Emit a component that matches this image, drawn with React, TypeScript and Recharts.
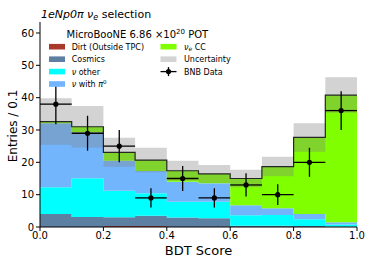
import React from "react";
import {
  ComposedChart,
  Area,
  Line,
  Scatter,
  ErrorBar,
  XAxis,
  YAxis,
} from "recharts";

// bin edges (BDT score) and per-bin stacked predictions
const EDGES = [0, 0.1, 0.2, 0.3, 0.4, 0.5, 0.6, 0.7, 0.8, 0.9, 1.0];
const CENTERS = [0.05, 0.15, 0.25, 0.35, 0.45, 0.55, 0.65, 0.75, 0.85, 0.95];

const DIRT = [0, 0, 0.3, 0.3, 0, 0, 0, 0, 0, 0];
const COSMICS = [4.0, 3.1, 2.7, 3.2, 2.9, 2.7, 0.4, 0.4, 0.3, 0.1];
const NU_OTHER = [8.3, 12.0, 8.2, 6.9, 4.9, 5.1, 3.2, 3.3, 2.1, 0.7];
const NU_PI0 = [19.8, 14.2, 9.3, 6.9, 6.2, 5.7, 3.1, 2.1, 1.6, 0.65];
const NUE_CC = [0.5, 1.7, 2.6, 3.4, 3.4, 2.9, 8.3, 12.9, 23.7, 39.35];
const UNCERT = [7.2, 6.4, 4.5, 3.8, 3.1, 2.8, 2.7, 3.0, 4.4, 5.5];

const DATA = [38, 29, 25, 9, 15, 9, 13, 10, 20, 36];
const DATA_ERR = [6.2, 5.4, 5.0, 3.0, 3.9, 3.0, 3.6, 3.2, 4.5, 6.0];

const X_TICKS = [0, 0.2, 0.4, 0.6, 0.8, 1.0];
const Y_TICKS = [0, 10, 20, 30, 40, 50, 60];

const COLORS = {
  dirt: "#a8392b",
  cosmics: "#5d7fa1",
  nuOther: "#00ffff",
  nuPi0: "#72b5fd",
  nueCC: "#80ff00",
};

// step rows: last edge repeats last bin so stepAfter closes at 1.0
const stepRows = EDGES.map((x, i) => {
  const k = Math.min(i, 9);
  const total = DIRT[k] + COSMICS[k] + NU_OTHER[k] + NU_PI0[k] + NUE_CC[k];
  return {
    x,
    dirt: DIRT[k],
    cosmics: COSMICS[k],
    nuOther: NU_OTHER[k],
    nuPi0: NU_PI0[k],
    nueCC: NUE_CC[k],
    total,
    band: [total - UNCERT[k], total + UNCERT[k]],
  };
});

const points = CENTERS.map((x, i) => ({
  x,
  y: DATA[i],
  xerr: 0.05,
  yerr: DATA_ERR[i],
}));

const FONT = "DejaVu Sans";

function Dot(props: any) {
  const { cx, cy } = props;
  return <circle cx={cx} cy={cy} r={2.6} fill="#000" />;
}

function Overlay() {
  const rowY = [46.7, 59.2, 71.6, 84];
  const left = [
    { label: "Dirt (Outside TPC)", color: COLORS.dirt },
    { label: "Cosmics", color: COLORS.cosmics },
    { label: "other", color: COLORS.nuOther, nu: true },
    { label: "with", color: COLORS.nuPi0, nu: true, pi: true },
  ];
  return (
    <svg
      width={374}
      height={267}
      style={{ position: "absolute", left: 0, top: 0, pointerEvents: "none" }}
      fontFamily={FONT}
    >
      <text x={41} y={17.5} fontSize={11} fill="#000">
        <tspan fontStyle="italic">1eNp0π</tspan>
        <tspan> </tspan>
        <tspan fontStyle="italic">ν</tspan>
        <tspan fontStyle="italic" fontSize={8} dy={2}>e</tspan>
        <tspan dy={-2}> selection</tspan>
      </text>

      <text x={66.5} y={37.5} fontSize={10} fill="#000">
        MicroBooNE 6.86 ×10
        <tspan fontSize={7} dy={-4}>20</tspan>
        <tspan dy={4}> POT</tspan>
      </text>

      {left.map((it, i) => (
        <g key={it.label}>
          <rect x={49} y={rowY[i] - 2.8} width={16} height={5.6} fill={it.color} />
          <text x={71.7} y={rowY[i] + 3} fontSize={8} fill="#000">
            {it.nu && <tspan fontStyle="italic">ν </tspan>}
            {it.label}
            {it.pi && (
              <>
                <tspan fontStyle="italic"> π</tspan>
                <tspan fontSize={5.5} dy={-3}>0</tspan>
              </>
            )}
          </text>
        </g>
      ))}

      <rect x={160.5} y={rowY[0] - 2.8} width={16} height={5.6} fill={COLORS.nueCC} />
      <text x={184} y={rowY[0] + 3} fontSize={8} fill="#000">
        <tspan fontStyle="italic">ν</tspan>
        <tspan fontStyle="italic" fontSize={6} dy={1.5}>e</tspan>
        <tspan dy={-1.5}> CC</tspan>
      </text>

      <rect x={160.5} y={rowY[1] - 2.8} width={16} height={5.6} fill="#d3d3d3" />
      <text x={184} y={rowY[1] + 3} fontSize={8} fill="#000">
        Uncertainty
      </text>

      <line x1={160.5} x2={176.5} y1={rowY[2]} y2={rowY[2]} stroke="#000" strokeWidth={1.3} />
      <line x1={168.5} x2={168.5} y1={rowY[2] - 4.5} y2={rowY[2] + 4.5} stroke="#000" strokeWidth={1.3} />
      <circle cx={168.5} cy={rowY[2]} r={2.6} fill="#000" />
      <text x={184} y={rowY[2] + 3} fontSize={8} fill="#000">
        BNB Data
      </text>

      <text
        transform="translate(17,126) rotate(-90)"
        textAnchor="middle"
        fontSize={12}
        fill="#000"
      >
        Entries / 0.1
      </text>
      <text x={198.5} y={255} textAnchor="middle" fontSize={13} fill="#000">
        BDT Score
      </text>
    </svg>
  );
}

export default function App() {
  const tickStyle = { fontSize: 10, fill: "#000", fontFamily: FONT };

  return (
    <div
      style={{
        position: "absolute",
        left: 0,
        top: 0,
        width: 374,
        height: 267,
        background: "#fff",
        fontFamily: FONT,
      }}
    >
      <ComposedChart
        width={374}
        height={267}
        data={stepRows}
        margin={{ top: 22, right: 17, bottom: 20, left: 10 }}
      >
        <XAxis
          dataKey="x"
          type="number"
          domain={[0, 1]}
          ticks={X_TICKS}
          interval={0}
          tickFormatter={(v: number) => v.toFixed(1)}
          height={20}
          tickSize={4}
          tickMargin={1}
          tick={tickStyle}
          axisLine={{ stroke: "#000" }}
          tickLine={{ stroke: "#000" }}
          allowDataOverflow
        />
        <XAxis
          xAxisId="top"
          orientation="top"
          dataKey="x"
          type="number"
          domain={[0, 1]}
          height={0}
          tick={false}
          tickLine={false}
          axisLine={{ stroke: "#000" }}
        />
        <YAxis
          type="number"
          domain={[0, 63.4]}
          ticks={Y_TICKS}
          interval={0}
          width={30}
          tickSize={4}
          tickMargin={2}
          tick={tickStyle}
          axisLine={{ stroke: "#000" }}
          tickLine={{ stroke: "#000" }}
          allowDataOverflow
        />
        <YAxis
          yAxisId="right"
          orientation="right"
          type="number"
          domain={[0, 63.4]}
          width={0}
          tick={false}
          tickLine={false}
          axisLine={{ stroke: "#000" }}
        />

        <Area type="stepAfter" dataKey="dirt" stackId="s" fill={COLORS.dirt} fillOpacity={1} stroke="none" isAnimationActive={false} activeDot={false} />
        <Area type="stepAfter" dataKey="cosmics" stackId="s" fill={COLORS.cosmics} fillOpacity={1} stroke="none" isAnimationActive={false} activeDot={false} />
        <Area type="stepAfter" dataKey="nuOther" stackId="s" fill={COLORS.nuOther} fillOpacity={1} stroke="none" isAnimationActive={false} activeDot={false} />
        <Area type="stepAfter" dataKey="nuPi0" stackId="s" fill={COLORS.nuPi0} fillOpacity={1} stroke="none" isAnimationActive={false} activeDot={false} />
        <Area type="stepAfter" dataKey="nueCC" stackId="s" fill={COLORS.nueCC} fillOpacity={1} stroke="none" isAnimationActive={false} activeDot={false} />

        <Area type="stepAfter" dataKey="band" fill="#808080" fillOpacity={0.35} stroke="none" isAnimationActive={false} activeDot={false} />

        <Line type="stepAfter" dataKey="total" stroke="#262626" strokeWidth={1.2} dot={false} activeDot={false} isAnimationActive={false} />

        <Scatter data={points} dataKey="y" shape={<Dot />} isAnimationActive={false}>
          <ErrorBar dataKey="xerr" direction="x" width={0} stroke="#000" strokeWidth={1.3} />
          <ErrorBar dataKey="yerr" direction="y" width={0} stroke="#000" strokeWidth={1.3} />
        </Scatter>
      </ComposedChart>
      <Overlay />
    </div>
  );
}
